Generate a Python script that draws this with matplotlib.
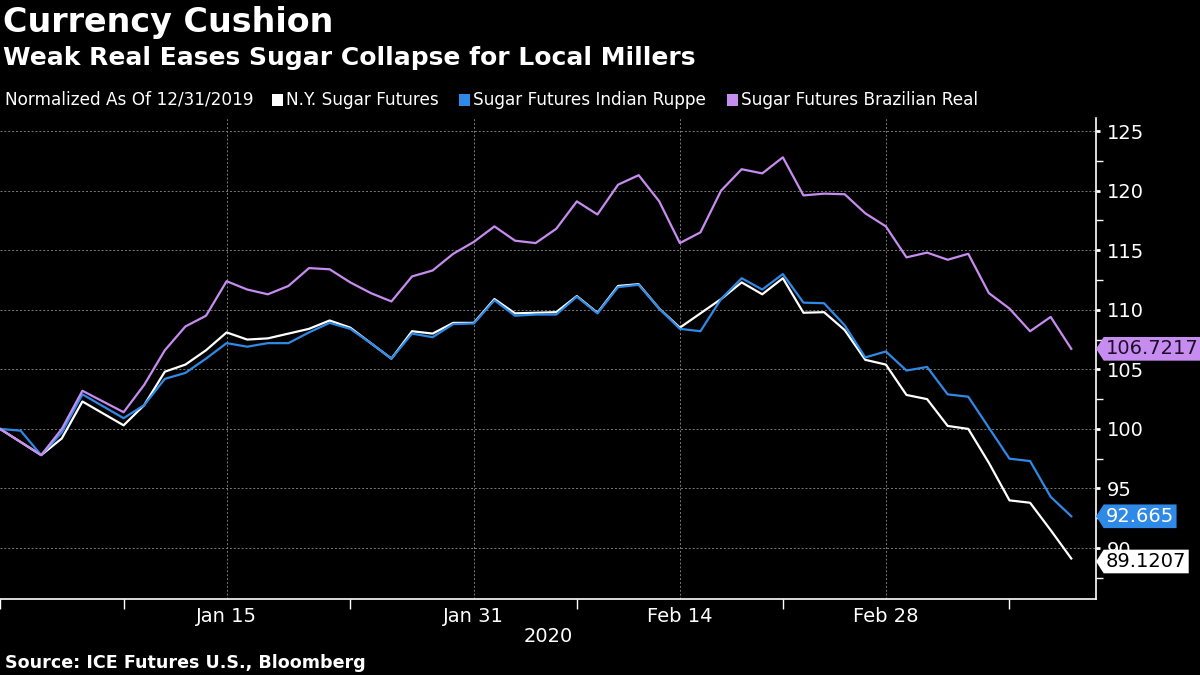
"""Currency Cushion: NY sugar futures vs. sugar priced in INR and BRL, normalized to 12/31/2019."""
import matplotlib.pyplot as plt
import numpy as np
import pandas as pd
from matplotlib.patches import Rectangle
from matplotlib.path import Path

W, H = 1200, 675

WHITE = "#ffffff"
BLUE = "#2f89e6"
PURPLE = "#c78cf0"
GRID = "#7a7a7a"

# normalized series, one value per weekday starting 12/31/2019
ny_sugar = [
    100.0, 98.9, 97.8, 99.2, 102.3, 101.3, 100.3, 102.0, 104.8, 105.4,
    106.6, 108.1, 107.5, 107.6, 108.0, 108.4, 109.1, 108.5, 107.2, 105.9,
    108.2, 108.0, 108.9, 108.9, 110.9, 109.7, 109.75, 109.8, 111.15, 109.75,
    112.0, 112.15, 110.1, 108.5, 109.7, 110.9, 112.3, 111.3, 112.65, 109.75,
    109.8, 108.3, 105.8, 105.4, 102.85, 102.5, 100.25, 100.0, 97.15, 94.0,
    93.8, 91.5, 89.1207,
]
sugar_inr = [
    100.0, 99.85, 97.8, 99.7, 102.9, 101.9, 100.9, 102.0, 104.2, 104.7,
    105.9, 107.2, 106.9, 107.2, 107.2, 108.1, 108.9, 108.4, 107.2, 105.9,
    108.0, 107.7, 108.8, 108.85, 110.8, 109.5, 109.6, 109.6, 111.1, 109.7,
    111.9, 112.1, 110.1, 108.4, 108.2, 110.9, 112.65, 111.7, 113.0, 110.6,
    110.55, 108.7, 106.0, 106.5, 104.9, 105.2, 102.9, 102.7, 100.1, 97.5,
    97.3, 94.3, 92.665,
]
sugar_brl = [
    100.0, 98.9, 97.8, 100.0, 103.2, 102.3, 101.4, 103.7, 106.6, 108.6,
    109.5, 112.4, 111.7, 111.3, 112.0, 113.5, 113.4, 112.3, 111.4, 110.7,
    112.8, 113.3, 114.7, 115.7, 117.0, 115.8, 115.6, 116.8, 119.1, 118.0,
    120.5, 121.3, 119.1, 115.6, 116.5, 120.0, 121.8, 121.45, 122.8, 119.6,
    119.75, 119.7, 118.1, 117.0, 114.4, 114.8, 114.2, 114.7, 111.4, 110.1,
    108.2, 109.4, 106.7217,
]
series_names = ["N.Y. Sugar Futures", "Sugar Futures Indian Ruppe", "Sugar Futures Brazilian Real"]

label_dates = ["2020-01-15", "2020-01-31", "2020-02-14", "2020-02-28"]
minor_dates = ["2019-12-31", "2020-01-08", "2020-01-23", "2020-02-07", "2020-02-21", "2020-03-09"]
y_ticks = [90, 95, 100, 105, 110, 115, 120, 125]

dates = pd.bdate_range("2019-12-31", periods=len(ny_sugar))
x = np.arange(len(dates))


def tag_box(x0, y0, width, height, mutation_size):
    """Box with a pointed left end, like the Bloomberg last-value tags."""
    pad = 0.12 * mutation_size
    x0, y0 = x0 - pad, y0 - pad
    width, height = width + 2 * pad, height + 2 * pad
    tip = height * 0.32
    verts = [(x0, y0), (x0 + width, y0), (x0 + width, y0 + height),
             (x0, y0 + height), (x0 - tip, y0 + height / 2), (x0, y0)]
    return Path(verts, closed=True)


def value_tag(ax, value, fc, tc, shift=0):
    ax.annotate(str(value), xy=(1, value), xycoords=("axes fraction", "data"),
                xytext=(10, shift), textcoords="offset pixels", ha="left", va="center",
                fontsize=14, color=tc, annotation_clip=False, zorder=10,
                bbox=dict(boxstyle=tag_box, fc=fc, ec="none"))


fig = plt.figure(figsize=(W / 100, H / 100), dpi=100, facecolor="black")
ax = fig.add_axes([0, 1 - 599 / H, 1096 / W, (599 - 118) / H])
ax.set_facecolor("black")

ax.plot(x, ny_sugar, color=WHITE, linewidth=1.6, zorder=3)
ax.plot(x, sugar_inr, color=BLUE, linewidth=1.6, zorder=4)
ax.plot(x, sugar_brl, color=PURPLE, linewidth=1.6, zorder=5)

ax.set_xlim(0, 53.2)
ax.set_ylim(85.72, 126.1)

ax.yaxis.tick_right()
ax.set_yticks(y_ticks)
ax.set_yticks(np.arange(87.5, 126, 5), minor=True)
ax.tick_params(axis="y", which="major", colors=WHITE, labelsize=14, length=3, width=2, pad=5)
ax.tick_params(axis="y", which="minor", colors=WHITE, length=5, width=1)

major_idx = dates.get_indexer(pd.to_datetime(label_dates))
minor_idx = dates.get_indexer(pd.to_datetime(minor_dates))
ax.set_xticks(major_idx)
ax.set_xticklabels([dates[i].strftime("%b %d") for i in major_idx])
ax.set_xticks(minor_idx, minor=True)
ax.tick_params(axis="x", which="major", colors=WHITE, labelsize=14, length=0, pad=6)
ax.tick_params(axis="x", which="minor", colors=WHITE, length=7, width=1)

ax.grid(True, which="major", color=GRID, linestyle=(0, (2, 2)), linewidth=0.7)
for side in ("top", "left"):
    ax.spines[side].set_visible(False)
for side in ("right", "bottom"):
    ax.spines[side].set_color(WHITE)
    ax.spines[side].set_linewidth(1.2)

value_tag(ax, sugar_brl[-1], PURPLE, "#1c0f29")
value_tag(ax, sugar_inr[-1], BLUE, WHITE)
value_tag(ax, ny_sugar[-1], WHITE, "black", shift=-3)

fig.text(548 / W, 1 - 636 / H, str(dates[-1].year), color=WHITE, fontsize=14,
         ha="center", va="center")

# titles
fig.text(3 / W, 1 - 6 / H, "Currency Cushion", color=WHITE, fontsize=24,
         fontweight="bold", ha="left", va="top")
fig.text(3 / W, 1 - 46 / H, "Weak Real Eases Sugar Collapse for Local Millers", color=WHITE,
         fontsize=18, fontweight="bold", ha="left", va="top")
fig.text(5 / W, 1 - 663 / H, "Source: ICE Futures U.S., Bloomberg", color=WHITE,
         fontsize=12.6, fontweight="bold", ha="left", va="center")

# legend row laid out left to right
renderer = fig.canvas.get_renderer()
ly = 1 - 100 / H
cursor = 5
t = fig.text(cursor / W, ly, "Normalized As Of 12/31/2019", color=WHITE, fontsize=12.2,
             ha="left", va="center")
cursor += t.get_window_extent(renderer).width + 18
for name, color in zip(series_names, [WHITE, BLUE, PURPLE]):
    fig.add_artist(Rectangle((cursor / W, 1 - 106 / H), 11 / W, 12 / H,
                             transform=fig.transFigure, fc=color, ec="none"))
    cursor += 14
    t = fig.text(cursor / W, ly, name, color=WHITE, fontsize=12.2, ha="left", va="center")
    cursor += t.get_window_extent(renderer).width + 21

fig.savefig("out.png", dpi=100, facecolor="black")
